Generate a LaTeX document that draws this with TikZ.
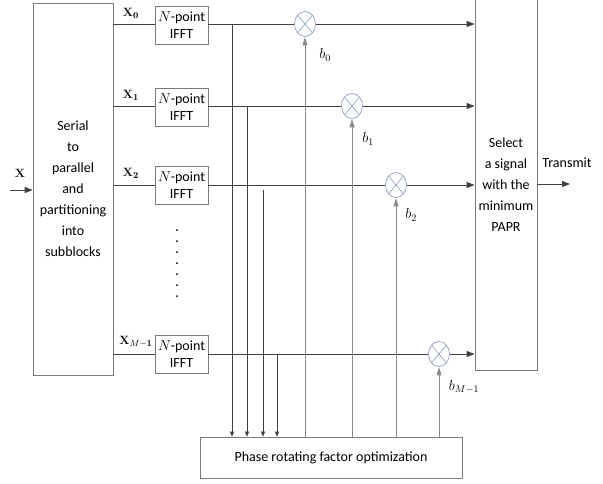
\documentclass[tikz,border=0pt]{standalone}
\usepackage[no-math]{fontspec}
\setmainfont{Carlito}
\usetikzlibrary{arrows.meta,shapes.geometric}
\definecolor{ln}{HTML}{404040}
\definecolor{gl}{HTML}{8A8A8A}
\definecolor{bx}{HTML}{7A7A7A}
\definecolor{mc}{HTML}{8C9DB8}
\tikzset{
  blk/.style={draw=bx,line width=0.8pt,align=center,font=\fontsize{14}{21}\selectfont,inner sep=0pt},
  fftbox/.style={draw=bx,line width=0.8pt,align=center,minimum width=53pt,minimum height=38pt,inner sep=0pt,font=\fontsize{14}{17}\selectfont},
  mult/.style={draw=mc,line width=0.7pt,ellipse,minimum width=21pt,minimum height=25pt,inner sep=0pt,path picture={
     \draw[mc,line width=0.6pt] (path picture bounding box.south west)--(path picture bounding box.north east)
       (path picture bounding box.north west)--(path picture bounding box.south east);}},
  wire/.style={draw=ln,line width=0.8pt},
  arr/.style={wire,-{Triangle[length=8pt,width=6pt]}},
  tap/.style={draw=ln,line width=0.7pt,-{Triangle[length=5pt,width=4pt]}},
  barr/.style={draw=gl,line width=0.8pt,-{Triangle[length=8pt,width=5pt]},shorten >=0.5pt},
  lab/.style={inner sep=0pt,font=\fontsize{13}{15}\selectfont},
  blab/.style={inner sep=0pt,font=\fontsize{14}{16}\selectfont},
  dotm/.style={fill=black,circle,inner sep=0pt,minimum size=2pt}
}
\begin{document}
\begin{tikzpicture}[x=1pt,y=-1pt]
\useasboundingbox (0,0) rectangle (603,483);
\clip (0,0) rectangle (603,483);
% blocks
\node[blk,minimum width=80pt,minimum height=372pt] (sp) at (73,189) {Serial\\to\\parallel\\and\\partitioning\\into\\subblocks};
\node[blk,minimum width=62pt,minimum height=380pt] (sel) at (506,180) {};
\node[align=center,font=\fontsize{14}{21}\selectfont,inner sep=0pt] (seltxt) at (506,185) {Select\\a signal\\with the\\minimum\\PAPR};
\node[blk,minimum width=262pt,minimum height=41pt] (ph) at (331,457.5) {Phase rotating factor optimization};
% IFFT
\node[fftbox] (f0) at (181.5,25.5) {$N$-point\\IFFT};
\node[fftbox] (f1) at (181.5,107.5) {$N$-point\\IFFT};
\node[fftbox] (f2) at (181.5,185.5) {$N$-point\\IFFT};
\node[fftbox] (f3) at (181.5,354.5) {$N$-point\\IFFT};
% multipliers
\node[mult] (m0) at (305,24) {};
\node[mult] (m1) at (352,106) {};
\node[mult] (m2) at (396,185) {};
\node[mult] (m3) at (439,354) {};
% input
\coordinate (in) at (10,190);
\draw[arr] (in) -- (in -| sp.west);
\node[lab] (xl) at (20,173) {$\mathbf{X}$};
% branch wires
\foreach \i/\y in {0/24,1/106,2/185,3/354}{
  \draw[wire] (sp.east |- 0,\y) -- (f\i.west |- 0,\y);
  \draw[wire] (f\i.east |- 0,\y) -- (m\i.west);
  \draw[arr] (m\i.east) -- (sel.west |- 0,\y);
}
% labels
\node[lab] (x0) at (131,13) {$\mathbf{X}_{\mathbf{0}}$};
\node[lab] (x1) at (131,95) {$\mathbf{X}_{\mathbf{1}}$};
\node[lab] (x2) at (131,173) {$\mathbf{X}_{\mathbf{2}}$};
\node[lab] (x3) at (136,342) {$\mathbf{X}_{M-\mathbf{1}}$};
% taps
\coordinate (t0) at (232,24);
\coordinate (t1) at (247,106);
\coordinate (t2) at (263,190);
\coordinate (t3) at (277,354);
\foreach \i in {0,1,2,3}{ \draw[tap] (t\i) -- (t\i |- ph.north); }
% phase factors
\foreach \i in {0,1,2,3}{ \draw[barr] (m\i |- ph.north) -- (m\i.south); }
\node[blab] (b0) at (325,55) {$b_0$};
\node[blab] (b1) at (368,139) {$b_1$};
\node[blab] (b2) at (411,215) {$b_2$};
\node[blab] (b3) at (464,387) {$b_{M-1}$};
% dots
\foreach \y in {230,241,252,263,274,285,296}{ \node[dotm] at (177,\y) {}; }
% transmit
\coordinate (tx) at (570,184);
\draw[arr] (sel.east |- tx) -- (tx);
\node[inner sep=0pt,font=\fontsize{14}{16}\selectfont] (tr) at (567,163) {Transmit};
\end{tikzpicture}
\end{document}
